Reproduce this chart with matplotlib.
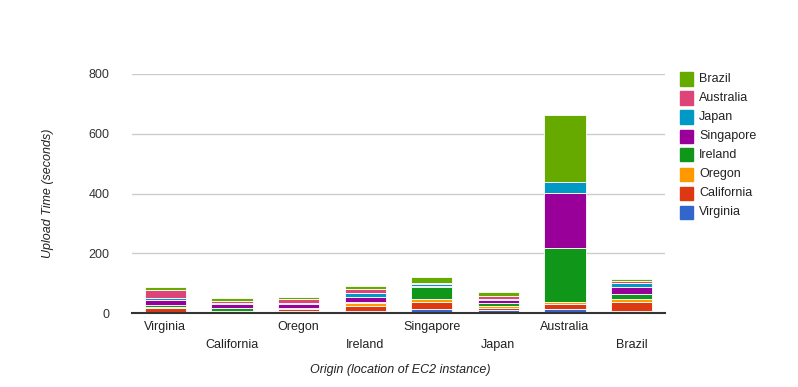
import matplotlib
matplotlib.use("Agg")
import matplotlib.pyplot as plt
from matplotlib.patches import Rectangle
import numpy as np

plt.rcParams['font.family'] = ['Liberation Sans', 'DejaVu Sans']

origins = ["Virginia", "California", "Oregon", "Ireland",
           "Singapore", "Japan", "Australia", "Brazil"]
destinations = ["Virginia", "California", "Oregon", "Ireland",
                "Singapore", "Japan", "Australia", "Brazil"]
colors = ["#3366cc", "#dc3912", "#ff9900", "#109618",
          "#990099", "#0099c6", "#dd4477", "#66aa00"]

# upload time (seconds) to each destination, one list per destination,
# ordered by origin
virginia = [4, 3, 6, 8, 12, 9, 15, 8]
california = [12, 2, 6, 17, 26, 9, 14, 30]
oregon = [5, 3, 2, 9, 8, 5, 9, 9]
ireland = [6, 8, 4, 3, 40, 10, 180, 16]
singapore = [15, 14, 13, 17, 3, 10, 183, 23]
japan = [9, 4, 4, 13, 8, 4, 37, 13]
australia = [27, 7, 11, 12, 5, 10, 2, 9]
brazil = [9, 9, 8, 12, 19, 13, 224, 5]

series = [virginia, california, oregon, ireland,
          singapore, japan, australia, brazil]

fig = plt.figure(figsize=(7.98, 3.87), dpi=100)
ax = fig.add_axes([132 / 798, 74 / 387, 533 / 798, 239 / 387])

x = np.arange(len(origins))
bottom = np.zeros(len(origins))
for vals, col in zip(series, colors):
    ax.bar(x, vals, bottom=bottom, width=0.62, color=col,
           edgecolor="white", linewidth=0.6, zorder=3)
    bottom += np.array(vals)

ax.set_xlim(-0.5, len(origins) - 0.5)
ax.set_ylim(0, 800)
ax.set_yticks([0, 200, 400, 600, 800])
ax.grid(axis="y", color="#cccccc", linewidth=1, zorder=0)
for s in ["top", "right", "left"]:
    ax.spines[s].set_visible(False)
ax.spines["bottom"].set_color("#333333")
ax.spines["bottom"].set_linewidth(1.5)
ax.spines["bottom"].set_zorder(4)
ax.tick_params(axis="both", length=0, labelsize=9, labelcolor="#333333")
ax.tick_params(axis="y", pad=16)

ax.set_xticks(x)
ax.set_xticklabels([])
for i, name in enumerate(origins):
    ax.annotate(name, xy=(i, 0), xycoords=("data", "axes fraction"),
                xytext=(0, -14 if i % 2 == 0 else -32),
                textcoords="offset pixels",
                ha="center", va="center", fontsize=9, color="#222222")

fig.text(400 / 798, 1 - 370 / 387, "Origin (location of EC2 instance)",
         ha="center", va="center", fontsize=9, style="italic", color="#222222")
fig.text(48 / 798, 1 - 193 / 387, "Upload Time (seconds)", rotation=90,
         ha="center", va="center", fontsize=9, style="italic", color="#222222")

# legend, top entry is the last series
for k, (name, col) in enumerate(zip(destinations[::-1], colors[::-1])):
    yc = 79 + 19 * k
    fig.add_artist(Rectangle((680 / 798, 1 - (yc + 6.5) / 387), 13 / 798, 13 / 387,
                             transform=fig.transFigure, color=col))
    fig.text(699 / 798, 1 - yc / 387, name, ha="left", va="center",
             fontsize=9, color="#222222")

fig.savefig("out.png", dpi=100)
